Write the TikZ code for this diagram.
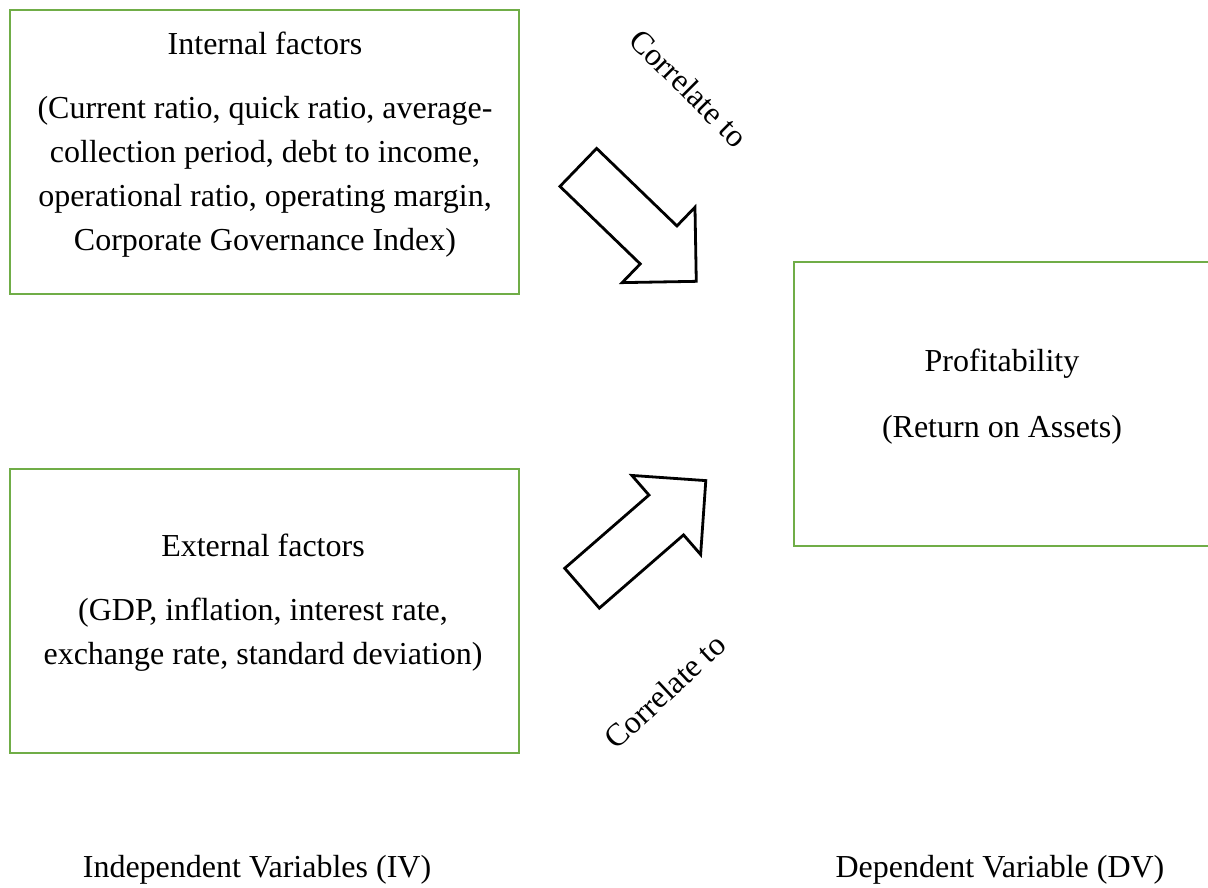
\documentclass[tikz,border=0pt]{standalone}
\usepackage{fontspec}
\setmainfont{Liberation Serif}
\usepackage{xcolor}
\usepackage{tikz}
\usetikzlibrary{shapes.arrows,positioning}
\definecolor{boxgreen}{RGB}{112,173,71}

\begin{document}
\begin{tikzpicture}[x=1pt,y=-1pt,font=\fontsize{32}{44}\selectfont,
      factor/.style={draw=boxgreen,line width=2.8pt,minimum width=509pt,minimum height=284pt,inner sep=0pt},
      txt/.style={align=center,inner sep=0pt},
      blockarrow/.style={single arrow,draw=black,line width=2.8pt,fill=white,minimum height=164pt,
        minimum width=104pt,single arrow head extend=26pt,single arrow tip angle=90,inner sep=25pt,anchor=tip}]
    \useasboundingbox (0,0) rectangle (1208,887);
    % boxes
    \node[factor] (internal) at (264.5,152) {};
    \node[factor] (external) at (264.5,611) {};
    \node[factor,minimum width=430pt] (profit) at (1009,404) {};
    \node[txt] (internaltxt) at (265,145) {Internal factors\\[20pt](Current ratio, quick ratio, average-\\collection period, debt to income,\\operational ratio, operating margin,\\Corporate Governance Index)};
    \node[txt] (externaltxt) at (263,603) {External factors\\[20pt](GDP, inflation, interest rate,\\exchange rate, standard deviation)};
    \node[txt] (profittxt) at (1002,397) {Profitability\\[22pt](Return on Assets)};
    % block arrows
    \node[blockarrow,rotate=-44] (arrA) at (697.7,282.7) {};
    \node[blockarrow,rotate=41] (arrB) at (707.3,479.3) {};
    \node[txt,rotate=-45] (corrA) at (689,88) {Correlate to};
    \node[txt,rotate=43] (corrB) at (665,691) {Correlate to};
    % captions
    \node[txt] (ivlabel) at (257,870) {Independent Variables (IV)};
    \node[txt] (dvlabel) at (1000,870) {Dependent Variable (DV)};
  \end{tikzpicture}
\end{document}
